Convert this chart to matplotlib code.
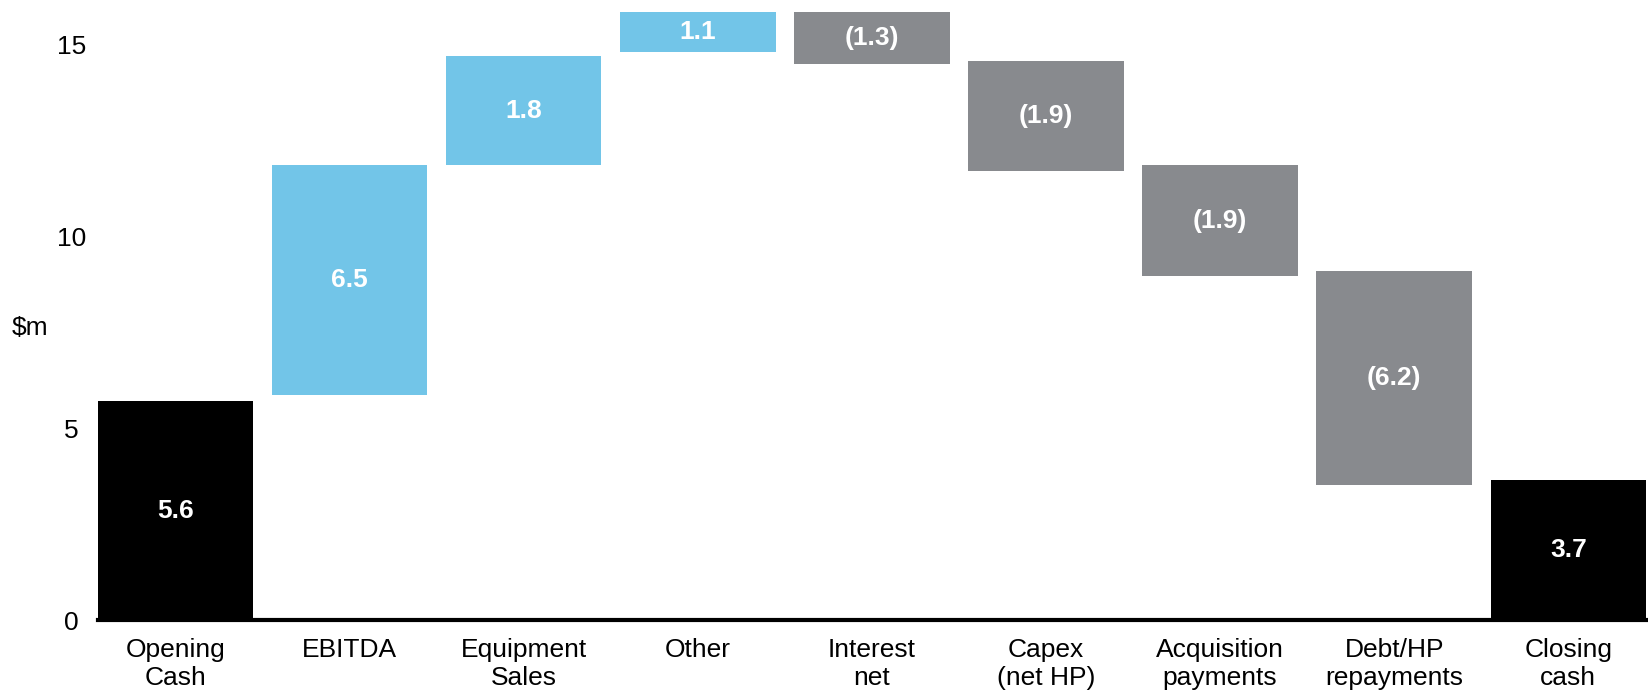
import matplotlib.pyplot as plt

plt.rcParams['font.family'] = ['Liberation Sans', 'DejaVu Sans']

# Kategorien und Werte (Beschriftungen wie im Original)
categories = ["Opening\nCash", "EBITDA", "Equipment\nSales", "Other", "Interest\nnet",
              "Capex\n(net HP)", "Acquisition\npayments", "Debt/HP\nrepayments", "Closing\ncash"]
value_labels = ["5.6", "6.5", "1.8", "1.1", "(1.3)", "(1.9)", "(1.9)", "(6.2)", "3.7"]
kinds = ["total", "up", "up", "up", "down", "down", "down", "down", "total"]

# Balkenunter- und -oberkanten, so wie sie im Bild gezeichnet sind
bar_bottom = [0, 5.86, 11.86, 14.79, 14.47, 11.70, 8.96, 3.51, 0]
bar_top = [5.70, 11.84, 14.68, 15.84, 15.84, 14.55, 11.84, 9.10, 3.64]

colors = {"total": "#000000", "up": "#72C5E8", "down": "#888A8E"}

fig = plt.figure(figsize=(16.48, 6.95), dpi=100)
ax = fig.add_axes([98 / 1648, 75 / 695, 1 - 98 / 1648, 620 / 695])

x = list(range(len(categories)))
heights = [t - b for t, b in zip(bar_top, bar_bottom)]
ax.bar(x, heights, bottom=bar_bottom, width=0.893,
       color=[colors[k] for k in kinds], linewidth=0, zorder=2)

# Werte in die Balken schreiben
for xi, b, t, lab in zip(x, bar_bottom, bar_top, value_labels):
    ax.text(xi, (b + t) / 2, lab, ha='center', va='center', color='white',
            fontsize=19, fontweight='bold', zorder=3)

ax.set_xlim(-0.445, 8.458)
ax.set_ylim(0, 16.15)

ax.set_yticks([0, 5, 10, 15])
ax.set_xticks(x)
ax.set_xticklabels(categories, fontsize=19, linespacing=1.2)
for lab in ax.get_yticklabels():
    lab.set_fontsize(19)
    lab.set_horizontalalignment('center')
ax.tick_params(axis='y', length=0, pad=19)
ax.tick_params(axis='x', length=0, pad=13)

for s in ['top', 'right', 'left']:
    ax.spines[s].set_visible(False)
ax.spines['bottom'].set_linewidth(3)
ax.spines['bottom'].set_zorder(4)

fig.text(12 / 1648, 1 - 328 / 695, "$m", ha='left', va='center', fontsize=19)

fig.savefig("out.png", dpi=100)
